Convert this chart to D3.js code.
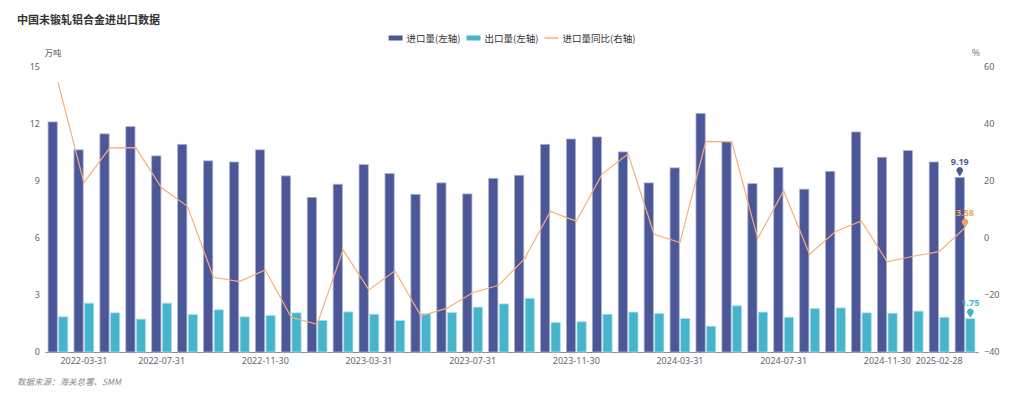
<!DOCTYPE html>
<html>
<head>
<meta charset="utf-8">
<script src="https://cdn.jsdelivr.net/npm/d3@7"></script>
<style>
  body { margin: 0; background: #fff; }
  svg { display: block; font-family: "Noto Sans CJK SC", "Noto Sans", sans-serif; }
  .tick text { fill: #666; font-size: 9px; font-family: "Noto Sans", sans-serif; }
</style>
</head>
<body>
<div id="chart"></div>
<script>
// data
const categories = [
  "2022-02-28", "2022-03-31", "2022-04-30", "2022-05-31", "2022-07-31", "2022-08-31",
  "2022-09-30", "2022-10-31", "2022-11-30", "2022-12-31", "2023-01-31", "2023-02-28",
  "2023-03-31", "2023-04-30", "2023-05-31", "2023-06-30", "2023-07-31", "2023-08-31",
  "2023-09-30", "2023-10-31", "2023-11-30", "2023-12-31", "2024-01-31", "2024-02-29",
  "2024-03-31", "2024-04-30", "2024-05-31", "2024-06-30", "2024-07-31", "2024-08-31",
  "2024-09-30", "2024-10-31", "2024-11-30", "2024-12-31", "2025-02-28", "2025-03-31"
];
const importVals = [12.11, 10.64, 11.48, 11.86, 10.32, 10.93, 10.06, 10.00, 10.64, 9.27,
  8.14, 8.83, 9.86, 9.39, 8.30, 8.90, 8.32, 9.14, 9.30, 10.93, 11.21, 11.32, 10.53, 8.90,
  9.69, 12.56, 11.07, 8.86, 9.71, 8.57, 9.51, 11.58, 10.25, 10.60, 10.00, 9.19];
const exportVals = [1.85, 2.57, 2.06, 1.73, 2.57, 1.97, 2.22, 1.85, 1.92, 2.06, 1.66,
  2.11, 1.99, 1.66, 2.01, 2.08, 2.36, 2.53, 2.83, 1.55, 1.59, 1.99, 2.10, 2.03, 1.76,
  1.36, 2.43, 2.10, 1.83, 2.29, 2.32, 2.06, 2.04, 2.15, 1.83, 1.75];
const yoyVals = [54.7, 19.4, 31.6, 31.7, 17.6, 11.1, -13.8, -15.3, -11.2, -27.8, -30.3,
  -4.2, -18.2, -11.5, -27.3, -24.7, -19.2, -16.6, -7.3, 9.3, 5.9, 22.5, 29.5, 1.3, -1.6,
  33.9, 33.7, -0.2, 16.6, -5.7, 2.3, 6.0, -8.4, -6.4, -4.8, 3.58];
const xTickLabels = ["2022-03-31", "2022-07-31", "2022-11-30", "2023-03-31", "2023-07-31",
  "2023-11-30", "2024-03-31", "2024-07-31", "2024-11-30", "2025-02-28"];
const leftTicks = [0, 3, 6, 9, 12, 15];
const rightTicks = [-40, -20, 0, 20, 40, 60];
const seriesNames = ["进口量(左轴)", "出口量(左轴)", "进口量同比(右轴)"];

const W = 1024, H = 399;
const colImp = "#4b5797", colExp = "#46b4ca", colYoy = "#f5b07a";

const svg = d3.select("#chart").append("svg").attr("width", W).attr("height", H);

const x = d3.scaleBand().domain(categories).range([45, 978]).padding(0);
const x1 = d3.scaleBand().domain(["imp", "exp"]).range([0, x.bandwidth()])
  .paddingInner(0.13).paddingOuter(0.29);
const yL = d3.scaleLinear().domain([0, 15]).range([352, 67]);
const yR = d3.scaleLinear().domain([-40, 60]).range([352, 67]);

// title
svg.append("text").attr("x", 17).attr("y", 24)
  .attr("font-size", 11).attr("font-weight", "bold").attr("fill", "#333")
  .text("中国未锻轧铝合金进出口数据");

// units
svg.append("text").attr("x", 53).attr("y", 56).attr("text-anchor", "middle")
  .attr("font-size", 8.5).attr("fill", "#555").text("万吨");
svg.append("text").attr("x", 976).attr("y", 56).attr("text-anchor", "middle")
  .attr("font-size", 8.5).attr("fill", "#555").text("%");

// legend, laid out from measured text widths and centred
const legend = svg.append("g").attr("font-size", 9.5);
const legendColors = [colImp, colExp, colYoy];
let lx = 0;
const items = seriesNames.map((name, i) => {
  const g = legend.append("g").attr("transform", `translate(${lx},0)`);
  if (i < 2) {
    g.append("rect").attr("y", 35.5).attr("width", 14).attr("height", 5).attr("fill", legendColors[i]);
  } else {
    g.append("line").attr("x1", 0).attr("x2", 14).attr("y1", 38).attr("y2", 38)
      .attr("stroke", legendColors[i]).attr("stroke-width", 1.5);
  }
  const t = g.append("text").attr("x", 18).attr("y", 41.5).attr("fill", "#333").text(name);
  lx += 18 + t.node().getComputedTextLength() + 6;
  return g;
});
legend.attr("transform", `translate(${512 - (lx - 6) / 2},0)`);

// axes
const xAxis = svg.append("g").attr("transform", "translate(0,352)")
  .call(d3.axisBottom(x).tickValues(xTickLabels).tickSize(0).tickPadding(6));
xAxis.select(".domain").attr("stroke", "#8a8d9c");
xAxis.selectAll(".tick text").attr("fill", "#555");

const leftAxis = svg.append("g").attr("transform", "translate(40,0)")
  .call(d3.axisLeft(yL).tickValues(leftTicks).tickSize(0).tickPadding(0));
leftAxis.select(".domain").remove();

const rightAxis = svg.append("g").attr("transform", "translate(984,0)")
  .call(d3.axisRight(yR).tickValues(rightTicks).tickSize(0).tickPadding(0));
rightAxis.select(".domain").remove();

// bars
const groups = svg.append("g").selectAll("g").data(categories).join("g")
  .attr("transform", d => `translate(${x(d)},0)`);

groups.append("rect")
  .attr("x", x1("imp")).attr("width", x1.bandwidth())
  .attr("y", (d, i) => yL(importVals[i]))
  .attr("height", (d, i) => yL(0) - yL(importVals[i]))
  .attr("fill", colImp).attr("stroke", "#aab0d2").attr("stroke-width", 0.8);

groups.append("rect")
  .attr("x", x1("exp")).attr("width", x1.bandwidth())
  .attr("y", (d, i) => yL(exportVals[i]))
  .attr("height", (d, i) => yL(0) - yL(exportVals[i]))
  .attr("fill", colExp).attr("stroke", "#a9e0ea").attr("stroke-width", 0.8);

// yoy line
const line = d3.line()
  .x((d, i) => x(categories[i]) + x.bandwidth() / 2)
  .y(d => yR(d));
svg.append("path").datum(yoyVals).attr("d", line)
  .attr("fill", "none").attr("stroke", colYoy).attr("stroke-width", 1.2);

// last-point pins and labels
function pin(cx, tipY, color, label) {
  const r = 3.2, cy = tipY - 6;
  svg.append("path")
    .attr("d", `M${cx},${tipY} L${cx - r * 0.8},${cy + r * 0.6} A${r},${r} 0 1 1 ${cx + r * 0.8},${cy + r * 0.6} Z`)
    .attr("fill", color);
  svg.append("text").attr("x", cx).attr("y", cy - 5.5).attr("text-anchor", "middle")
    .attr("font-family", "Noto Sans, sans-serif")
    .attr("font-size", 9).attr("font-weight", "bold").attr("fill", color).text(label);
}
const last = categories.length - 1;
const lastX = x(categories[last]);
pin(lastX + x1("imp") + x1.bandwidth() / 2, yL(importVals[last]) - 1, colImp, importVals[last].toFixed(2));
pin(lastX + x.bandwidth() / 2, yR(yoyVals[last]), "#f3a15c", yoyVals[last].toFixed(2));
pin(lastX + x1("exp") + x1.bandwidth() / 2, yL(exportVals[last]) - 1, "#3fb3cc", exportVals[last].toFixed(2));

// source
svg.append("text").attr("x", 17).attr("y", 385)
  .attr("font-size", 8.5).attr("font-style", "italic").attr("fill", "#888")
  .text("数据来源：海关总署、SMM");
</script>
</body>
</html>
